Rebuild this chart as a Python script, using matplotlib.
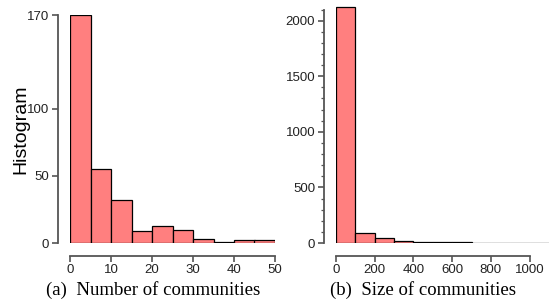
import numpy as np
import matplotlib
matplotlib.use("Agg")
import matplotlib.pyplot as plt
from matplotlib import ticker as mticker

# ----------------- data -----------------
num_edges  = [0, 5, 10, 15, 20, 25, 30, 35, 40, 45, 50]
num_counts = [170, 55, 32, 9, 13, 10, 3, 1, 2, 2]

size_edges  = [0, 100, 200, 300, 400, 500, 600, 700, 800, 900, 1000, 1100]
size_counts = [2120, 90, 42, 20, 10, 10, 6, 3, 2, 2, 1]

num_yticks  = [0, 50, 100, 170]
size_yticks = [0, 500, 1000, 1500, 2000]

BAR_COLOR  = "#ff7f7f"
SPINE_GREY = "#555555"
TICK_FONT  = "Liberation Sans"
CAP_FONT   = "Liberation Serif"

W, H = 551, 305
fig = plt.figure(figsize=(W / 100, H / 100), dpi=100)


def px_axes(x0, x1, ytop, ybot):
    return fig.add_axes([x0 / W, 1 - ybot / H, (x1 - x0) / W, (ybot - ytop) / H])


def style(ax, xbounds, ybounds, offset=9):
    for s in ("top", "right"):
        ax.spines[s].set_visible(False)
    for s in ("left", "bottom"):
        ax.spines[s].set_position(("outward", offset))
        ax.spines[s].set_color(SPINE_GREY)
        ax.spines[s].set_linewidth(1.3)
    ax.spines["bottom"].set_bounds(*xbounds)
    ax.spines["left"].set_bounds(*ybounds)
    ax.tick_params(axis="both", which="major", length=4, width=1.2,
                   color=SPINE_GREY, labelsize=9.5, pad=2, labelcolor="#222222")
    ax.tick_params(axis="both", which="minor", length=2.5, width=0.9, color=SPINE_GREY)
    for lab in ax.get_xticklabels() + ax.get_yticklabels():
        lab.set_fontfamily(TICK_FONT)


# ----------------- (a) number of communities -----------------
ax1 = px_axes(70, 275, 15, 243)
ax1.bar(num_edges[:-1], num_counts, width=np.diff(num_edges), align="edge",
        color=BAR_COLOR, edgecolor="black", linewidth=0.9)
ax1.set_xlim(num_edges[0], num_edges[-1])
ax1.set_ylim(0, 170)
ax1.set_xticks([0, 10, 20, 30, 40, 50])
ax1.set_yticks(num_yticks)
style(ax1, (0, 50), (0, 170))
ax1.set_ylabel("Histogram", fontsize=14, fontfamily=TICK_FONT)
ax1.yaxis.set_label_coords(-0.2, 0.5)

# ----------------- (b) size of communities -----------------
ax2 = px_axes(336, 549, 4, 243)
ax2.bar(size_edges[:-1], size_counts, width=np.diff(size_edges), align="edge",
        color=BAR_COLOR, edgecolor="black", linewidth=0.9)
ax2.set_xlim(size_edges[0], size_edges[-1])
ax2.set_ylim(0, 2150)
ax2.set_xticks([0, 200, 400, 600, 800, 1000])
ax2.set_yticks(size_yticks)
ax2.yaxis.set_minor_locator(mticker.MultipleLocator(100))
style(ax2, (0, 1000), (0, 2100))

# ----------------- captions -----------------
fig.text(153 / W, 1 - 290 / H, "(a)  Number of communities", ha="center", va="center",
         fontsize=13.5, fontfamily=CAP_FONT)
fig.text(423 / W, 1 - 290 / H, "(b)  Size of communities", ha="center", va="center",
         fontsize=13.5, fontfamily=CAP_FONT)

fig.savefig("out.png", dpi=100)
